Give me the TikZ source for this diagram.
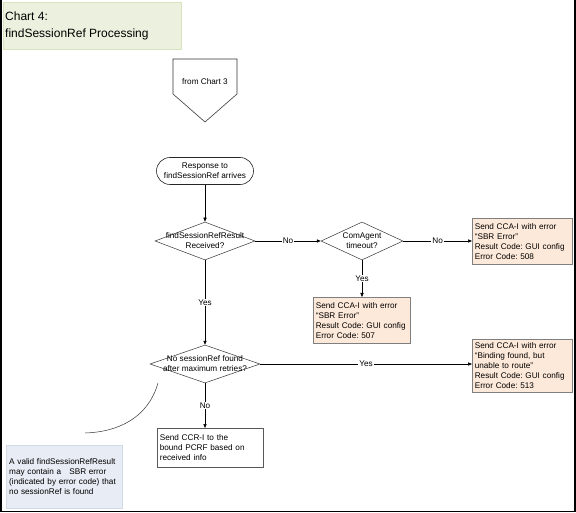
\documentclass[tikz,border=0pt]{standalone}
\usepackage{fontspec}
\setmainfont{Liberation Sans}
\usetikzlibrary{arrows.meta,shapes.geometric}
\definecolor{titlefill}{HTML}{EBF1DE}
\definecolor{titleline}{HTML}{D7E4BD}
\definecolor{peach}{HTML}{FDE9D9}
\definecolor{peachline}{HTML}{7F7F7F}
\definecolor{notefill}{HTML}{E8ECF4}
\definecolor{noteline}{HTML}{D3D9E4}
\frenchspacing
\tikzset{
  txt/.style={font=\fontsize{8.2}{10}\selectfont},
  arr/.style={draw=black, line width=0.5pt, -{Triangle[length=4pt,width=3.2pt]}},
  lbl/.style={txt, fill=white, inner sep=1pt},
  dia/.style={diamond, draw=black!80, line width=0.5pt, inner sep=0pt, minimum width=#1, minimum height=38},
  errbox/.style={rectangle, draw=peachline, line width=0.6pt, fill=peach, txt, align=left, inner sep=2.5pt, text width=#1},
}
\begin{document}
\begin{tikzpicture}[x=1pt,y=-1pt]
\useasboundingbox (0,0) rectangle (576,513);
% frame
\draw[line width=1.5pt] (1,0) -- (1,511.5) -- (575,511.5) -- (575,0);
% title
\node[rectangle, draw=titleline, fill=titlefill, line width=0.4pt, minimum width=178, minimum height=47, anchor=north west, inner sep=0pt] (title) at (3,2) {};
\node[anchor=west, inner sep=0pt, font=\fontsize{12}{15}\selectfont] (t1) at (5,16) {Chart 4:};
\node[anchor=west, inner sep=0pt, font=\fontsize{12}{15}\selectfont] (t2) at (5,34) {findSessionRef Processing};
% off-page connector
\draw[black!80, line width=0.6pt] (173,59) coordinate (p1) -- (237,59) coordinate (p2) -- (237,94) coordinate (p3) -- (205,122) coordinate (tip) -- (173,94) coordinate (p5) -- cycle;
\node[txt] (from) at (205,82) {from Chart 3};
% terminator
\node[rectangle, rounded corners=13.5pt, draw=black!85, line width=0.6pt, minimum width=97, minimum height=27, txt, align=center, inner sep=0pt] (term) at (205,171) {Response to\\findSessionRef arrives};
% decisions
\node[dia=100] (d1) at (205,241) {};
\node[txt, align=center] (d1t) at (205,241) {findSessionRefResult\\Received?};
\node[dia=82] (d2) at (362,241) {};
\node[txt, align=center] (d2t) at (362,241) {ComAgent\\timeout?};
\node[dia=110] (d3) at (205,364) {};
\node[txt, align=center] (d3t) at (205,364) {No sessionRef found\\after maximum retries?};
% result boxes
\node[errbox=95, minimum height=46, anchor=north west] (b508) at (472,218) {Send CCA-I with error\\``SBR Error''\\Result Code: GUI config\\Error Code: 508};
\node[errbox=92, minimum height=46, anchor=north west] (b507) at (313,297) {Send CCA-I with error\\``SBR Error''\\Result Code: GUI config\\Error Code: 507};
\node[errbox=95, minimum height=53, anchor=north west] (b513) at (472,339) {Send CCA-I with error\\``Binding found, but\\unable to route''\\Result Code: GUI config\\Error Code: 513};
\node[rectangle, draw=black!65, line width=0.6pt, fill=white, txt, align=left, inner sep=2.5pt, text width=101, minimum height=39, anchor=north west] (ccr) at (157,428) {Send CCR-I to the\\bound PCRF based on\\received info};
% note
\node[rectangle, draw=noteline, fill=notefill, line width=0.4pt, txt, align=left, inner sep=3pt, text width=110, minimum height=63, anchor=north west] (note) at (6,445) {A valid findSessionRefResult\\may contain a \ \ SBR error\\(indicated by error code) that\\no sessionRef is found};
% connectors
\draw[arr] (term.south) -- (d1.north);
\draw[arr] (d1.east) -- node[lbl] {No} (d2.west);
\draw[arr] (d2.east) -- node[lbl] {No} (b508.west |- d2.east);
\draw[arr] (d2.south) -- node[lbl] {Yes} (d2.south |- b507.north);
\draw[arr] (d1.south) -- node[lbl] {Yes} (d3.north);
\draw[arr] (d3.east) -- node[lbl] {Yes} (b513.west |- d3.east);
\draw[arr] (d3.south) -- node[lbl] {No} (ccr.north -| d3.south);
% annotation curve
\coordinate (cs) at (158,383);
\coordinate (ce) at (85,433);
\draw[black!80, line width=0.5pt] (cs) .. controls (148,418) and (118,432) .. (ce);
\end{tikzpicture}
\end{document}
